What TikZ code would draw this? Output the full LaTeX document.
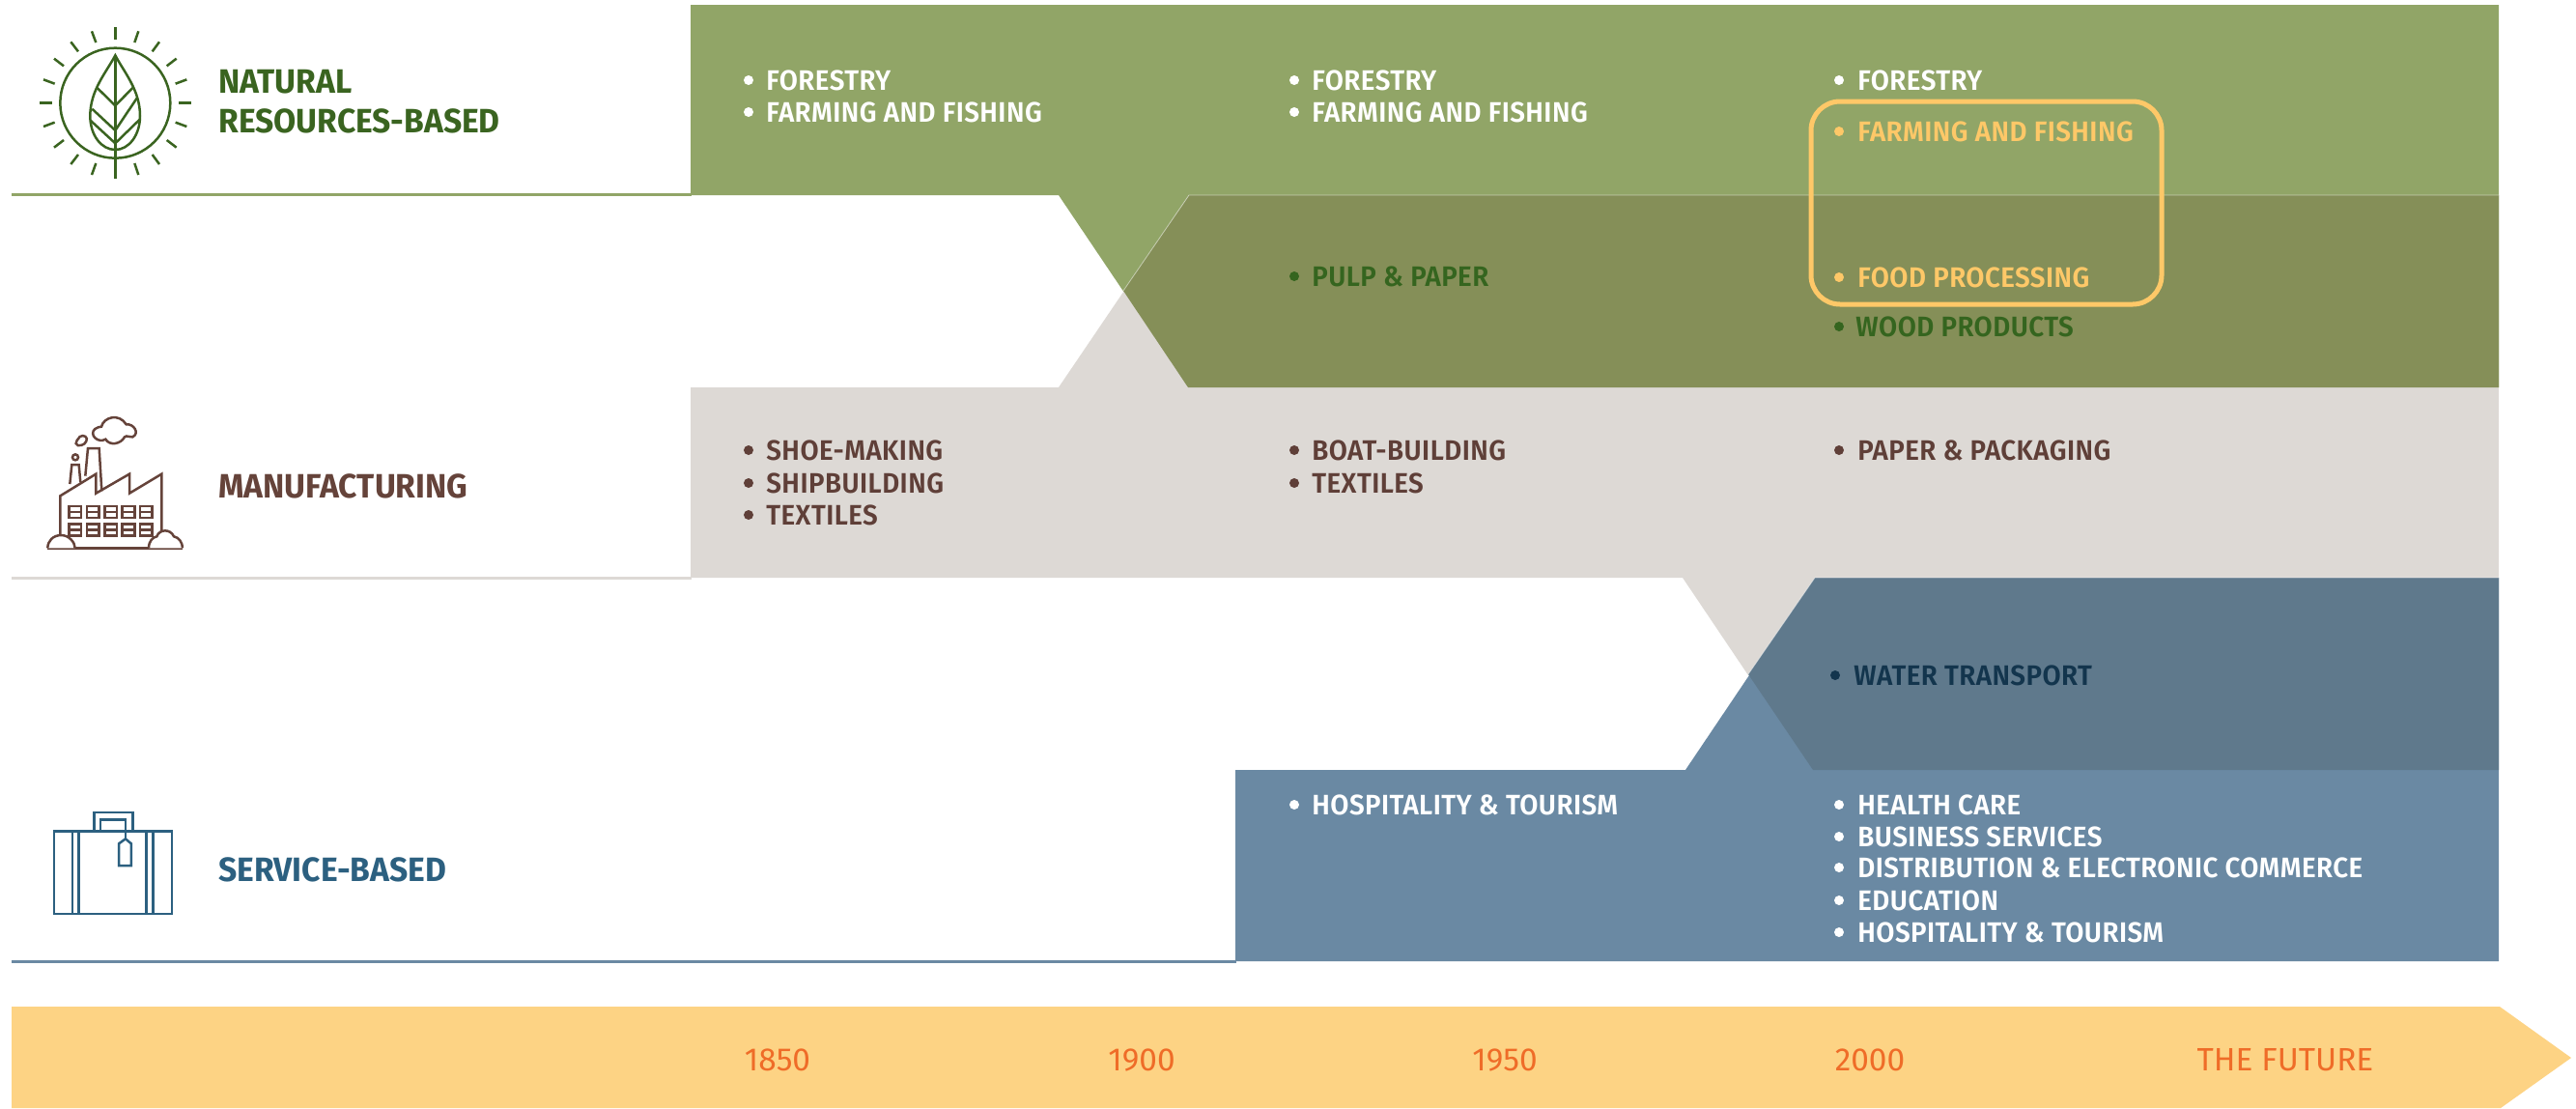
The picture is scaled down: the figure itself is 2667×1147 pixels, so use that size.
\documentclass[tikz,border=0pt]{standalone}
\usepackage{fontspec}
\setmainfont{Fira Sans}
\newfontfamily\headfont[FakeStretch=0.96,BoldFont={Fira Sans Bold}]{Fira Sans}
\newfontfamily\listfont[FakeStretch=0.95,LetterSpace=1.5]{Fira Sans SemiBold}
\newfontfamily\yearfont{Fira Sans}
\definecolor{green1}{HTML}{91A567}
\definecolor{green2}{HTML}{858F58}
\definecolor{beige1}{HTML}{DDD9D5}
\definecolor{blue1}{HTML}{6A89A3}
\definecolor{blue2}{HTML}{5F798C}
\definecolor{gold1}{HTML}{FDD384}
\definecolor{gold2}{HTML}{FEC868}
\definecolor{orange1}{HTML}{EF6C28}
\definecolor{darkgreen}{HTML}{35651F}
\definecolor{darkbrown}{HTML}{5F3F38}
\definecolor{navy}{HTML}{13354D}
\definecolor{headgreen}{HTML}{3A6420}
\definecolor{headbrown}{HTML}{65433A}
\definecolor{headblue}{HTML}{2C6080}
\tikzset{
  itemtext/.style={anchor=base west,inner sep=0pt,font=\listfont\fontsize{14.6}{16}\selectfont},
  headtext/.style={anchor=base west,inner sep=0pt,font=\headfont\bfseries\fontsize{17.5}{20}\selectfont},
  yeartext/.style={anchor=base,inner sep=0pt,text=orange1,font=\yearfont\fontsize{16.7}{20}\selectfont},
  iconline/.style={line width=1.25pt,line join=miter},
  edgeline/.style={line width=0.4pt,draw opacity=0.5},
}
% \litem{name}{bullet x}{text x}{centre y}{colour}{text}
\newcommand{\litem}[6]{%
  \fill[#5] (#2,#4) circle[radius=5];
  \node[itemtext,text=#5] (#1) at (#3,#4+10.5) {#6};
}
\begin{document}
\begin{tikzpicture}[x=0.5pt,y=-0.5pt]
\useasboundingbox (0,0) rectangle (2667,1147);
% rule lines
\fill[green1] (12,199.5) rectangle (716,202.5);
\fill[beige1] (12,596.5) rectangle (716,599.5);
\fill[blue1] (12,993.5) rectangle (1280,996.5);
% bands
\fill[green1] (715,5) -- (2587,5) -- (2587,401) -- (1230,401) -- (1096,202) -- (715,202) -- cycle;
\fill[beige1] (715,401) -- (1096,401) -- (1231,202) -- (2587,202) -- (2587,598) -- (715,598) -- cycle;
\fill[green2] (1163,301) -- (1231,202) -- (2587,202) -- (2587,401) -- (1230,401) -- cycle;
\draw[white,edgeline] (1163,301) -- (1231,202) -- (2587,202);
\fill[blue1] (1279,797) -- (1745,797) -- (1879,598) -- (2587,598) -- (2587,995) -- (1279,995) -- cycle;
\fill[beige1] (1742,598) -- (1879,598) -- (1810,699) -- cycle;
\fill[blue2] (1810,698) -- (1879,598) -- (2587,598) -- (2587,797) -- (1877,797) -- cycle;
\draw[white,edgeline] (1810,698) -- (1879,598) -- (2587,598);
% timeline arrow
\fill[gold1] (12,1042) -- (2588,1042) -- (2662,1095) -- (2589,1147) -- (12,1147) -- cycle;
% highlight
\draw[gold2,line width=2.5pt,rounded corners=15pt] (1875,105) rectangle (2238,315);
% list texts
\litem{a1}{775}{793}{83}{white}{FORESTRY}
\litem{a2}{775}{793}{116}{white}{FARMING AND FISHING}
\litem{a3}{1340}{1358}{83}{white}{FORESTRY}
\litem{a4}{1340}{1358}{116}{white}{FARMING AND FISHING}
\litem{a5}{1904}{1923}{83}{white}{FORESTRY}
\litem{a6}{1904}{1923}{136}{gold2}{FARMING AND FISHING}
\litem{b1}{1340}{1358}{286}{darkgreen}{PULP \& PAPER}
\litem{b2}{1904}{1923}{287}{gold2}{FOOD PROCESSING}
\litem{b3}{1904}{1921}{338}{darkgreen}{WOOD PRODUCTS}
\litem{c1}{775}{793}{466}{darkbrown}{SHOE-MAKING}
\litem{c2}{775}{793}{500}{darkbrown}{SHIPBUILDING}
\litem{c3}{775}{793}{533}{darkbrown}{TEXTILES}
\litem{c4}{1340}{1358}{466}{darkbrown}{BOAT-BUILDING}
\litem{c5}{1340}{1358}{500}{darkbrown}{TEXTILES}
\litem{c6}{1904}{1923}{466}{darkbrown}{PAPER \& PACKAGING}
\litem{d1}{1900}{1919}{699}{navy}{WATER TRANSPORT}
\litem{e1}{1340}{1358}{833}{white}{HOSPITALITY \& TOURISM}
\litem{e2}{1904}{1923}{833}{white}{HEALTH CARE}
\litem{e3}{1904}{1923}{866}{white}{BUSINESS SERVICES}
\litem{e4}{1904}{1923}{898}{white}{DISTRIBUTION \& ELECTRONIC COMMERCE}
\litem{e5}{1904}{1923}{932}{white}{EDUCATION}
\litem{e6}{1904}{1923}{965}{white}{HOSPITALITY \& TOURISM}
% headings
\node[headtext,text=headgreen] (h1) at (226,96.5) {NATURAL};
\node[headtext,text=headgreen] (h2) at (226,137.5) {RESOURCES-BASED};
\node[headtext,text=headbrown] (h3) at (226,515) {MANUFACTURING};
\node[headtext,text=headblue] (h4) at (226,912) {SERVICE-BASED};
% years
\node[yeartext] (y1) at (805,1108.5) {1850};
\node[yeartext] (y2) at (1182,1108.5) {1900};
\node[yeartext] (y3) at (1558,1108.5) {1950};
\node[yeartext] (y4) at (1936,1108.5) {2000};
\node[yeartext] (y5) at (2366,1108.5) {THE FUTURE};
% leaf icon (units: 3x crop pixels)
\begin{scope}[shift={(30,20)},x=0.16667pt,y=-0.16667pt,draw=headgreen,iconline]
\draw (268,260) circle[radius=171];
\foreach \a/\b/\c/\d in {268/25/268/62,195/37/208/72,340/37/328/72,130/70/153/100,405/70/383/100,78/122/108/145,458/122/428/145,45/187/80/200,490/187/455/200,32/260/72/260,465/260/503/260,45/333/80/320,490/333/455/320,78/398/108/375,458/398/428/375,130/450/153/420,405/450/383/420,195/483/208/447,340/483/328/447}
  \draw (\a,\b) -- (\c,\d);
\draw (268,112) .. controls (240,165) and (190,220) .. (190,300) .. controls (190,360) and (225,405) .. (268,405) .. controls (310,405) and (345,360) .. (345,300) .. controls (345,220) and (296,165) .. (268,112) -- cycle;
\draw (268,112) -- (268,495);
\draw (212,213) -- (268,268) -- (322,213);
\draw (196,278) -- (268,345) -- (335,245);
\draw (192,315) -- (268,385) -- (345,310);
\end{scope}
% factory icon
\begin{scope}[shift={(30,420)},x=0.16667pt,y=-0.16667pt,draw=headbrown,iconline]
\draw (97,405) -- (97,280) -- (208,212) -- (208,272) -- (312,212) -- (312,272) -- (412,212) -- (412,395);
\draw (58,442) -- (477,442);
\draw (127,243) -- (133,183) -- (155,183) -- (160,238);
\draw (175,218) -- (183,132) -- (218,132) -- (226,265);
\draw (144,160) circle[radius=9];
\draw (158,96) .. controls (170,88) and (185,98) .. (178,110) .. controls (175,122) and (150,130) .. (146,117) .. controls (145,108) and (152,106) .. (158,96) -- cycle;
\draw (225,65) .. controls (232,35) and (280,22) .. (302,58) .. controls (325,55) and (345,85) .. (322,97) .. controls (312,100) and (305,90) .. (297,97) .. controls (285,120) and (250,125) .. (238,104) .. controls (215,118) and (185,90) .. (205,72) .. controls (212,66) and (220,66) .. (225,65) -- cycle;
\foreach \x in {124,180,235,290,345} {
  \foreach \y in {312,368} {
    \draw (\x,\y) rectangle (\x+38,\y+36);
    \draw (\x,\y+18) -- (\x+38,\y+18);
  }
}
\draw[fill=white] (58,442) .. controls (58,420) and (75,402) .. (100,402) .. controls (125,402) and (143,425) .. (143,442);
\draw[fill=white] (372,442) .. controls (372,420) and (385,408) .. (397,406) .. controls (405,382) and (440,382) .. (450,406) .. controls (465,408) and (477,425) .. (477,442);
\end{scope}
% briefcase icon (units: crop pixels, 2.178x wide and 3x high)
\begin{scope}[shift={(0,780)},x=0.22957pt,y=-0.16667pt,draw=headblue,iconline]
\draw (122,242) rectangle (388,498);
\draw (163,242) -- (163,498) (178,242) -- (178,498) (330,242) -- (330,498) (345,242) -- (345,498);
\draw (212,242) -- (212,183) -- (299,183) -- (299,242);
\draw (227,242) -- (227,205) -- (283,205) -- (283,265);
\draw (283,265) -- (268,280) -- (268,348) -- (296,348) -- (296,280) -- cycle;
\end{scope}
\end{tikzpicture}
\end{document}
